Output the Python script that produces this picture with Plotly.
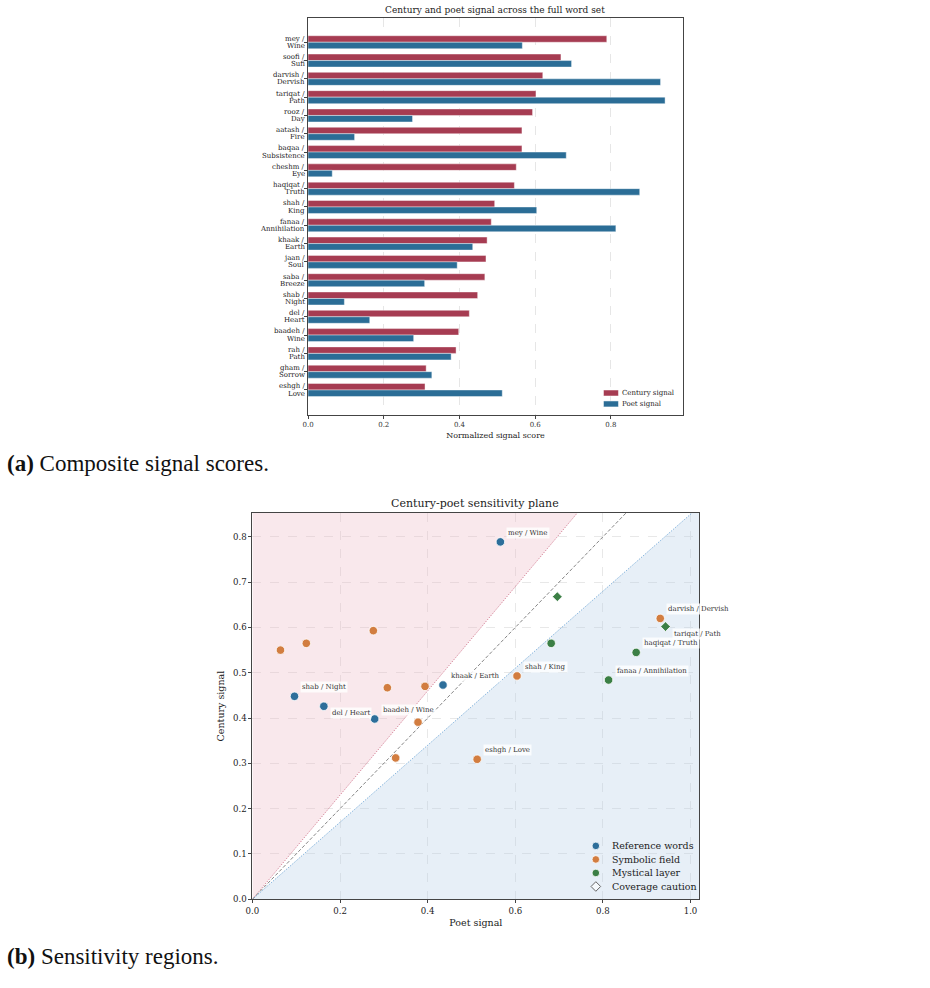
import plotly.graph_objects as go

# ---------------- data ----------------
words_fa = ["mey", "soofi", "darvish", "tariqat", "rooz", "aatash", "baqaa", "cheshm",
            "haqiqat", "shah", "fanaa", "khaak", "jaan", "saba", "shab", "del",
            "baadeh", "rah", "gham", "eshgh"]
words_en = ["Wine", "Sufi", "Dervish", "Path", "Day", "Fire", "Subsistence", "Eye",
            "Truth", "King", "Annihilation", "Earth", "Soul", "Breeze", "Night", "Heart",
            "Wine", "Path", "Sorrow", "Love"]
century = [0.789, 0.668, 0.620, 0.602, 0.593, 0.565, 0.565, 0.550,
           0.545, 0.493, 0.484, 0.473, 0.470, 0.467, 0.448, 0.426,
           0.398, 0.391, 0.312, 0.309]
poet = [0.566, 0.696, 0.931, 0.943, 0.276, 0.123, 0.682, 0.064,
        0.876, 0.604, 0.813, 0.435, 0.394, 0.308, 0.096, 0.163,
        0.279, 0.378, 0.327, 0.513]
group = ["Reference words", "Mystical layer", "Symbolic field", "Mystical layer",
         "Symbolic field", "Symbolic field", "Mystical layer", "Symbolic field",
         "Mystical layer", "Symbolic field", "Mystical layer", "Reference words",
         "Symbolic field", "Symbolic field", "Reference words", "Reference words",
         "Reference words", "Symbolic field", "Symbolic field", "Symbolic field"]
caution = [False, True, False, True, False, False, False, False,
           False, False, False, False, False, False, False, False,
           False, False, False, False]
labeled = ["mey", "darvish", "tariqat", "haqiqat", "shah", "fanaa", "khaak",
           "shab", "del", "baadeh", "eshgh"]
label_below = ["del", "tariqat"]

group_order = ["Reference words", "Symbolic field", "Mystical layer"]
group_colors = {"Reference words": "#2d6e9a", "Symbolic field": "#d27d40",
                "Mystical layer": "#3b7f45"}
bar_series = ["Century signal", "Poet signal"]
bar_colors = {"Century signal": "#a63c52", "Poet signal": "#2b6d96"}

upper_ratio = 1.15
lower_ratio = 0.85
x2_max = 1.02
y2_max = 0.853

cat_ids = [f"{a} / {b}" for a, b in zip(words_fa, words_en)]

SERIF = "DejaVu Serif"
W, H = 930, 988
OX = -5.0       # horizontal calibration
OY_TOP = 1.0    # vertical calibration, upper panel
OY_BOT = 4.5    # vertical calibration, lower panel


def px_x(p):
    return (p + OX) / W


def py_t(p):
    return 1 - (p + OY_TOP) / H


def py_b(p):
    return 1 - (p + OY_BOT) / H


fig = go.Figure()

# ---------------- top: bar chart ----------------
for name, vals in zip(bar_series, [century, poet]):
    fig.add_trace(go.Bar(
        y=cat_ids, x=vals, orientation="h", name=name,
        marker=dict(color=bar_colors[name], line=dict(color="rgba(255,255,255,0.7)", width=0.6)),
        xaxis="x", yaxis="y"))

# ---------------- bottom: scatter ----------------
fig.add_trace(go.Scatter(
    x=[0, 0, y2_max * 3 / upper_ratio],
    y=[0, y2_max * 3, y2_max * 3],
    fill="toself", fillcolor="rgba(236,178,192,0.30)", mode="none",
    hoverinfo="skip", xaxis="x2", yaxis="y2"))
fig.add_trace(go.Scatter(
    x=[0, x2_max * 3, x2_max * 3],
    y=[0, 0, x2_max * 3 * lower_ratio],
    fill="toself", fillcolor="rgba(176,201,229,0.30)", mode="none",
    hoverinfo="skip", xaxis="x2", yaxis="y2"))
fig.add_trace(go.Scatter(
    x=[0, x2_max * 2], y=[0, x2_max * 2 * upper_ratio], mode="lines",
    line=dict(color="#c8607a", width=0.9, dash="1px,1.5px"),
    hoverinfo="skip", xaxis="x2", yaxis="y2"))
fig.add_trace(go.Scatter(
    x=[0, x2_max * 2], y=[0, x2_max * 2], mode="lines",
    line=dict(color="#777777", width=0.9, dash="3.5px,2px"),
    hoverinfo="skip", xaxis="x2", yaxis="y2"))
fig.add_trace(go.Scatter(
    x=[0, x2_max * 2], y=[0, x2_max * 2 * lower_ratio], mode="lines",
    line=dict(color="#5b9bd0", width=0.9, dash="1px,1.5px"),
    hoverinfo="skip", xaxis="x2", yaxis="y2"))

for g in group_order:
    for flag, sym, sz in [(False, "circle", 8.5), (True, "diamond", 7.5)]:
        idx = [i for i in range(len(words_fa)) if group[i] == g and caution[i] == flag]
        if not idx:
            continue
        fig.add_trace(go.Scatter(
            x=[poet[i] for i in idx], y=[century[i] for i in idx], mode="markers",
            name=g, marker=dict(color=group_colors[g], size=sz, symbol=sym,
                                line=dict(color="white", width=0.8)),
            xaxis="x2", yaxis="y2"))

annotations = []
shapes = []

# category tick labels for the bar chart (two tight lines each)
for i, (a, b) in enumerate(zip(words_fa, words_en)):
    for txt, ys in [(f"{a} /", 3.6), (b, -3.6)]:
        annotations.append(dict(
            x=px_x(307), y=i, xref="paper", yref="y", text=txt, showarrow=False,
            xanchor="right", yanchor="middle", yshift=ys,
            font=dict(family=SERIF, size=7, color="#222")))

for i, w in enumerate(words_fa):
    if w not in labeled:
        continue
    below = w in label_below
    annotations.append(dict(
        x=poet[i], y=century[i], xref="x2", yref="y2",
        text=f"{w} / {words_en[i]}", showarrow=False,
        xanchor="left", yanchor="middle", xshift=6, yshift=-7 if below else 9,
        bgcolor="rgba(255,255,255,0.8)", borderpad=1,
        font=dict(family=SERIF, size=7, color="#333333")))

# ---- manual legend: top chart ----
for k, name in enumerate(bar_series):
    yc = 394 + 11 * k
    shapes.append(dict(type="rect", xref="paper", yref="paper",
                       xsizemode="pixel", ysizemode="pixel",
                       xanchor=px_x(606), yanchor=py_t(yc),
                       x0=0, x1=15, y0=-3, y1=3,
                       fillcolor=bar_colors[name], line=dict(color="white", width=0.5)))
    annotations.append(dict(x=px_x(623), y=py_t(yc), xref="paper", yref="paper",
                            text=name, showarrow=False, xanchor="left", yanchor="middle",
                            font=dict(family=SERIF, size=7, color="#222")))

# ---- manual legend: bottom chart ----
leg2 = group_order + ["Coverage caution"]
for k, name in enumerate(leg2):
    yc = 845.7 + 13.6 * k
    if name in group_colors:
        shapes.append(dict(type="circle", xref="paper", yref="paper",
                           xsizemode="pixel", ysizemode="pixel",
                           xanchor=px_x(598.3), yanchor=py_b(yc),
                           x0=-3.8, x1=3.8, y0=-3.8, y1=3.8,
                           fillcolor=group_colors[name], line=dict(color="white", width=0.8)))
    else:
        shapes.append(dict(type="path", xref="paper", yref="paper",
                           xsizemode="pixel", ysizemode="pixel",
                           xanchor=px_x(598.3), yanchor=py_b(yc),
                           path="M 0 4.8 L 4.8 0 L 0 -4.8 L -4.8 0 Z",
                           fillcolor="rgba(255,255,255,0.6)", line=dict(color="#666", width=1)))
    annotations.append(dict(x=px_x(613), y=py_b(yc), xref="paper", yref="paper",
                            text=name, showarrow=False, xanchor="left", yanchor="middle",
                            font=dict(family=SERIF, size=9.5, color="#222")))

# titles & captions
annotations += [
    dict(x=px_x(497), y=py_t(9), xref="paper", yref="paper",
         text="Century and poet signal across the full word set", showarrow=False,
         xanchor="center", yanchor="middle", font=dict(family=SERIF, size=9, color="#222")),
    dict(x=px_x(477), y=py_b(502), xref="paper", yref="paper",
         text="Century-poet sensitivity plane", showarrow=False,
         xanchor="center", yanchor="middle", font=dict(family=SERIF, size=11, color="#222")),
    dict(x=px_x(3), y=py_t(465), xref="paper", yref="paper",
         text="<b>(a)</b> Composite signal scores.", showarrow=False,
         xanchor="left", yanchor="middle", font=dict(family="Liberation Serif", size=23, color="#111")),
    dict(x=px_x(3), y=py_b(957), xref="paper", yref="paper",
         text="<b>(b)</b> Sensitivity regions.", showarrow=False,
         xanchor="left", yanchor="middle", font=dict(family="Liberation Serif", size=23, color="#111")),
]

axis_common = dict(showline=True, linecolor="#444444", linewidth=1, mirror=True,
                   ticks="outside", ticklen=3, tickcolor="#444444", zeroline=False)

fig.update_layout(
    width=W, height=H, margin=dict(l=0, r=0, t=0, b=0),
    paper_bgcolor="white", plot_bgcolor="white", showlegend=False,
    barmode="group", bargap=0.29, bargroupgap=0.0,
    font=dict(family=SERIF, color="#333333"),
    annotations=annotations, shapes=shapes,
    xaxis=dict(domain=[px_x(308.3), px_x(686)], anchor="y", range=[0, 0.99],
               tickvals=[0, 0.2, 0.4, 0.6, 0.8], ticktext=["0.0", "0.2", "0.4", "0.6", "0.8"],
               tickfont=dict(size=7, color="#333"), showgrid=True, gridcolor="#e6e6e6",
               griddash="dash", gridwidth=0.7,
               title=dict(text="Normalized signal score", font=dict(size=8, color="#222"), standoff=4),
               **axis_common),
    yaxis=dict(domain=[py_t(416), py_t(17)], anchor="x", type="category",
               categoryorder="array", categoryarray=cat_ids,
               range=[len(cat_ids) - 1 + 1.36, -1.33],
               showticklabels=False, showgrid=False, **axis_common),
    xaxis2=dict(domain=[px_x(252.3), px_x(702.5)], anchor="y2", range=[0, x2_max],
                tickvals=[0, 0.2, 0.4, 0.6, 0.8, 1.0],
                ticktext=["0.0", "0.2", "0.4", "0.6", "0.8", "1.0"],
                tickfont=dict(size=8.6, color="#222"), showgrid=True, gridcolor="#e8e8e8",
                griddash="dash", gridwidth=0.7,
                title=dict(text="Poet signal", font=dict(size=9.5, color="#222"), standoff=4),
                **axis_common),
    yaxis2=dict(domain=[py_b(899.3), py_b(511)], anchor="x2", range=[0, y2_max],
                tickvals=[0, 0.1, 0.2, 0.3, 0.4, 0.5, 0.6, 0.7, 0.8],
                ticktext=["0.0", "0.1", "0.2", "0.3", "0.4", "0.5", "0.6", "0.7", "0.8"],
                tickfont=dict(size=8.6, color="#222"), showgrid=True, gridcolor="#e8e8e8",
                griddash="dash", gridwidth=0.7,
                title=dict(text="Century signal", font=dict(size=9.5, color="#222"), standoff=6),
                **axis_common),
)

fig.write_html("out.html")
